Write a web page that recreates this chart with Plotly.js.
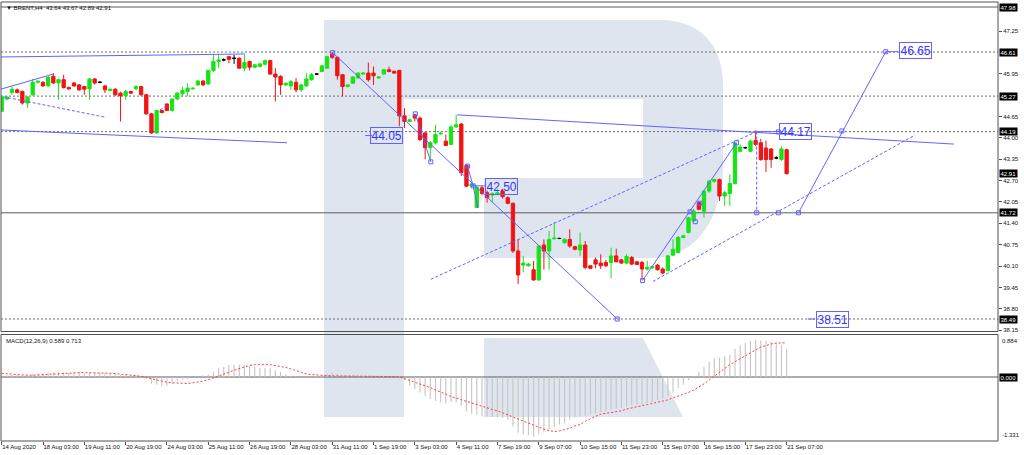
<!DOCTYPE html>
<html><head><meta charset="utf-8">
<script src="https://cdn.plot.ly/plotly-3.0.1.min.js"></script>
<style>html,body{margin:0;padding:0;background:#fff;}#chart{width:1024px;height:455px;}</style>
</head><body><div id="chart"></div>
<script>
// ---- BRENT H4 candles (bar index 0..152) ----
const openP = [44.81,45.18,45.38,45.46,45.41,45.06,45.31,45.69,45.69,45.58,
45.87,45.67,45.77,45.53,45.67,45.61,45.56,45.49,45.79,45.69,
45.58,45.44,45.48,45.36,45.28,45.41,45.49,45.56,45.31,44.73,
44.15,44.83,45.03,44.83,45.18,45.34,45.41,45.49,45.61,45.73,
45.64,46.05,46.32,46.37,46.47,46.42,46.42,46.12,46.32,46.15,
46.17,46.24,46.35,45.94,45.87,45.61,45.58,45.69,45.46,45.58,
45.77,45.94,46.02,46.12,46.55,46.45,45.92,45.56,45.66,45.82,
45.94,45.97,45.97,45.82,45.94,46.07,46.02,46.05,44.67,44.50,
44.70,44.60,44.15,43.70,43.85,44.12,43.90,43.80,44.33,44.42,
43.16,42.53,41.88,42.48,42.33,42.26,42.28,42.38,42.18,42.01,
40.56,40.13,40.11,39.99,39.68,40.74,40.56,40.93,40.94,40.81,
40.91,40.69,40.59,40.74,40.11,40.29,40.19,40.21,40.21,40.41,
40.29,40.19,40.36,40.23,40.21,40.01,40.05,40.13,40.01,39.96,
40.43,40.51,40.97,41.12,41.47,42.03,41.77,42.38,42.68,42.73,
42.23,42.31,42.61,43.59,43.70,43.59,43.92,43.85,43.69,43.66,
43.39,43.34,43.64];
const highP = [45.28,45.27,45.56,45.50,45.44,45.27,45.79,45.75,45.73,45.88,
45.97,45.80,45.92,45.56,45.70,45.64,45.58,45.82,45.82,45.73,
45.61,45.50,45.51,45.40,45.46,45.43,45.60,45.58,45.33,44.76,
44.86,44.85,45.05,45.20,45.40,45.56,45.66,45.53,45.76,45.75,
46.07,46.52,46.52,46.42,46.50,46.52,46.45,46.52,46.35,46.25,
46.28,46.38,46.37,46.12,45.90,45.68,45.76,45.82,45.64,45.97,
45.97,45.97,46.22,46.50,46.61,46.47,45.94,45.64,45.88,46.00,
45.99,46.29,46.17,45.87,46.10,46.17,46.05,46.07,44.90,44.58,
44.73,44.65,44.18,43.90,44.40,44.17,44.10,44.40,44.70,44.45,
43.20,42.62,42.56,42.55,42.40,42.35,42.45,42.45,42.22,42.03,
40.91,40.41,40.20,40.26,40.73,40.91,41.17,41.44,40.96,40.95,
41.22,40.72,41.12,40.86,40.13,40.36,40.46,40.29,40.66,40.63,
40.32,40.46,40.41,40.26,40.26,40.26,40.10,40.16,40.06,40.44,
40.92,41.02,41.05,41.60,41.84,42.05,42.40,42.73,42.76,42.76,
42.38,42.89,43.87,43.80,43.73,43.95,44.23,43.97,43.92,43.69,
43.44,43.74,43.67];
const lowP = [44.78,45.15,45.31,45.35,45.01,44.91,45.28,45.66,45.55,45.55,
45.64,45.16,45.50,45.46,45.55,45.43,45.31,45.16,45.62,45.66,
45.36,45.42,45.28,44.50,45.16,45.33,45.46,45.28,44.70,44.12,
44.12,44.75,44.82,44.80,45.15,45.26,45.26,45.47,45.58,45.58,
45.61,46.00,46.12,46.33,46.27,46.25,46.10,46.02,46.05,46.12,
46.14,46.20,45.92,45.11,45.31,45.58,45.46,45.38,45.40,45.55,
45.74,45.92,46.00,46.10,46.40,45.77,45.26,45.54,45.64,45.80,
45.92,45.71,45.61,45.80,45.92,45.99,45.95,44.35,44.30,44.47,
44.50,43.90,43.35,43.32,43.80,44.10,43.75,43.78,44.30,42.84,
42.50,42.50,41.86,42.25,42.03,42.03,42.25,42.15,41.98,40.50,
39.55,39.91,40.08,39.65,39.65,39.99,40.00,40.90,40.92,40.78,
40.66,40.58,40.41,40.00,40.01,40.03,40.01,40.06,39.73,40.21,
40.17,40.16,40.13,40.13,39.68,39.96,40.02,39.96,39.85,39.94,
40.41,40.48,40.95,41.10,41.47,41.80,41.57,42.33,42.63,42.08,
41.93,41.93,42.58,43.57,43.67,43.57,43.75,43.30,42.96,43.09,
43.35,43.30,42.89];
const closeP = [45.24,45.24,45.48,45.38,45.06,45.24,45.69,45.72,45.58,45.84,
45.67,45.77,45.53,45.49,45.58,45.46,45.48,45.79,45.67,45.69,
45.46,45.48,45.31,45.28,45.41,45.36,45.56,45.31,44.73,44.15,
44.83,44.77,44.83,45.18,45.36,45.44,45.51,45.51,45.73,45.61,
46.05,46.32,46.37,46.37,46.39,46.42,46.12,46.29,46.15,46.22,
46.25,46.35,45.94,45.85,45.61,45.66,45.71,45.46,45.61,45.79,
45.92,45.94,46.19,46.47,46.45,45.89,45.56,45.61,45.85,45.97,
45.97,45.77,45.89,45.85,46.07,46.02,45.97,44.67,44.50,44.55,
44.60,43.95,43.70,43.85,44.10,44.14,43.77,44.33,44.40,42.94,
42.53,42.60,42.49,42.31,42.18,42.30,42.33,42.21,42.01,40.56,
39.83,40.19,40.16,39.68,40.71,40.56,40.91,40.95,40.94,40.91,
40.71,40.61,40.74,40.06,40.03,40.16,40.11,40.11,40.41,40.23,
40.19,40.39,40.16,40.15,40.01,40.06,40.08,39.99,39.89,40.41,
40.61,40.97,41.02,41.57,41.77,41.83,42.38,42.68,42.73,42.23,
42.33,42.61,43.84,43.72,43.70,43.90,43.80,43.34,43.34,43.34,
43.39,43.66,42.91];

// ---- MACD(12,26,9) ----
const macdMain = [0.03,0.03,0.04,0.04,0.03,0.04,0.06,0.07,0.07,0.09,
0.10,0.10,0.10,0.09,0.09,0.09,0.08,0.09,0.09,0.09,
0.08,0.07,0.06,0.04,0.04,0.03,0.03,0.01,-0.04,-0.14,
-0.16,-0.19,-0.18,-0.14,-0.09,-0.05,-0.04,0.00,0.01,0.03,
0.05,0.11,0.18,0.21,0.25,0.26,0.26,0.25,0.23,0.21,
0.19,0.18,0.18,0.14,0.11,0.05,0.02,0.01,0.01,0.01,
0.01,0.02,0.04,0.07,0.09,0.07,0.03,0.01,0.01,0.02,
0.02,0.01,0.00,0.01,0.02,0.01,0.00,-0.04,-0.07,-0.18,
-0.25,-0.32,-0.39,-0.46,-0.50,-0.52,-0.55,-0.52,-0.53,-0.60,
-0.71,-0.76,-0.78,-0.82,-0.82,-0.83,-0.83,-0.85,-0.89,-1.03,
-1.16,-1.19,-1.21,-1.24,-1.19,-1.14,-1.09,-1.04,-0.99,-0.96,
-0.89,-0.85,-0.82,-0.80,-0.78,-0.76,-0.73,-0.71,-0.67,-0.66,
-0.64,-0.62,-0.60,-0.59,-0.57,-0.55,-0.52,-0.48,-0.45,-0.39,
-0.32,-0.23,-0.16,-0.07,0.02,0.11,0.21,0.31,0.39,0.40,
0.43,0.46,0.59,0.66,0.71,0.75,0.78,0.76,0.75,0.73,
0.71,0.67,0.589];
const macdSignal = [0.078,0.064,0.057,0.050,0.043,0.036,0.036,0.043,0.050,0.057,
0.064,0.071,0.085,0.085,0.092,0.092,0.092,0.092,0.092,0.092,
0.085,0.078,0.071,0.064,0.050,0.036,0.028,0.014,0.000,-0.036,
-0.064,-0.085,-0.107,-0.121,-0.128,-0.142,-0.135,-0.121,-0.107,-0.085,
-0.057,-0.021,0.014,0.057,0.099,0.142,0.178,0.213,0.241,0.256,
0.263,0.263,0.256,0.241,0.227,0.199,0.170,0.135,0.099,0.064,
0.050,0.036,0.036,0.028,0.021,0.021,0.021,0.021,0.021,0.021,
0.021,0.021,0.021,0.014,0.014,0.007,0.007,0.000,-0.036,-0.071,
-0.107,-0.142,-0.178,-0.220,-0.270,-0.305,-0.355,-0.405,-0.440,-0.469,
-0.504,-0.533,-0.568,-0.604,-0.639,-0.675,-0.703,-0.746,-0.788,-0.831,
-0.880,-0.923,-0.966,-1.008,-1.051,-1.086,-1.115,-1.136,-1.122,-1.101,
-1.065,-1.015,-0.987,-0.923,-0.866,-0.817,-0.774,-0.760,-0.746,-0.724,
-0.703,-0.667,-0.639,-0.618,-0.596,-0.575,-0.554,-0.533,-0.511,-0.476,
-0.433,-0.398,-0.369,-0.320,-0.270,-0.213,-0.142,-0.064,0.021,0.107,
0.178,0.256,0.320,0.383,0.440,0.497,0.568,0.625,0.653,0.689,
0.705,0.712,0.713];

// ---- axis labels ----
const timeTickIdx = [0,8,16,24,32,40,48,56,64,72,80,88,96,104,112,120,128,136,144,152];
const timeTickText = ["14 Aug 2020","18 Aug 03:00","19 Aug 11:00","20 Aug 19:00","24 Aug 03:00","25 Aug 11:00","26 Aug 19:00","28 Aug 03:00","31 Aug 11:00","1 Sep 19:00","3 Sep 03:00","4 Sep 11:00","7 Sep 19:00","9 Sep 07:00","10 Sep 15:00","11 Sep 23:00","15 Sep 07:00","16 Sep 15:00","17 Sep 23:00","21 Sep 07:00"];
const priceTicks = [38.15,38.80,39.45,40.10,40.75,41.40,42.05,42.70,43.35,44.00,44.65,45.95,47.25];
const boxedPrices = [47.98,46.61,45.27,44.19,42.91,41.72,38.49];
const dottedLevels = [46.61,45.27,44.19,38.49];
const solidLevels = [47.98,41.72];
const macdTop = 0.884, macdBottom = -1.331;
const titleText = "\u25BC BRENT,H4  43.64 43.67 42.89 42.91";
const macdTitle = "MACD(12,26,9) 0.589 0.713";

// ---- analysis objects: [bar0, price0, bar1, price1] ----
const solidObjects = [
 [-0.2,46.46,47.1,46.55],[-0.2,44.24,55.25,43.85],[-0.2,45.48,10.0,45.94],
 [64.1,46.59,119.2,38.49],[80.1,44.73,83.1,43.27],
 [90.2,43.14,91.3,42.54],[91.3,42.54,92.2,41.87],[91.3,42.54,93.6,42.54],
 [88.2,44.70,184.4,43.81],[124.1,39.66,142.3,43.85],[154.3,41.72,171.2,46.62],
 [70.4,44.07,71.7,44.07],[146.2,44.19,150.5,44.19],[171.2,46.62,173.6,46.62],[156.1,38.49,157.5,38.49]
];
const dottedObjects = [
 [0.3,45.25,20.0,44.63],[30.65,44.85,32.2,45.0],[83.1,39.70,146.2,44.19],
 [126.1,39.63,176.9,44.09],[146.2,44.19,146.2,41.72]
];
const pointBars = [64.1,119.2,80.1,83.1,90.2,91.3,124.1,142.3,146.2,150.4,154.3,171.2,162.7,133.3,134.3,135.2,150.4];
const pointPrices = [46.59,38.49,44.73,43.27,43.14,42.54,39.66,43.85,41.72,41.72,41.72,46.62,44.21,41.75,41.45,42.01,44.18];
const targetText = ["44.05","42.50","44.17","46.65","38.51"];
const targetBars = [74.6,96.7,153.8,176.9,160.9];
const targetPrices = [44.07,42.52,44.18,46.66,38.48];

// ---- build ----
const W = 1024, H = 455, ML = 1, MR = 26, MT = 2, MB = 14;
const plotW = W - ML - MR, plotH = H - MT - MB;
const barIdx = openP.map((_, i) => i);
const isDoji = barIdx.map(i => closeP[i] === openP[i]);
const sel = (arr, want) => arr.filter((_, i) => isDoji[i] === want);

const GREEN = '#17e317', RED = '#f01414', BLUE = '#6262ff', TXTBLUE = '#3434ff';
const FONT = 'Liberation Sans, Arial, sans-serif';

const traces = [
 {type:'candlestick', x:sel(barIdx,false), open:sel(openP,false), high:sel(highP,false), low:sel(lowP,false), close:sel(closeP,false),
  xaxis:'x', yaxis:'y', hoverinfo:'skip', showlegend:false, whiskerwidth:0,
  increasing:{line:{color:GREEN,width:1}, fillcolor:GREEN},
  decreasing:{line:{color:RED,width:1}, fillcolor:RED}},
 {type:'candlestick', x:sel(barIdx,true), open:sel(openP,true), high:sel(highP,true), low:sel(lowP,true), close:sel(closeP,true),
  xaxis:'x', yaxis:'y', hoverinfo:'skip', showlegend:false, whiskerwidth:0,
  increasing:{line:{color:'#000',width:1}, fillcolor:'#000'},
  decreasing:{line:{color:'#000',width:1}, fillcolor:'#000'}},
 {type:'bar', x:barIdx, y:macdMain, xaxis:'x', yaxis:'y2', width:0.22,
  marker:{color:'#c6c6c6', line:{width:0}}, hoverinfo:'skip', showlegend:false},
 {type:'scatter', mode:'lines', x:barIdx, y:macdSignal, xaxis:'x', yaxis:'y2',
  line:{color:'#ff3c3c', width:1, dash:'2px,2px'}, hoverinfo:'skip', showlegend:false},
 {type:'scatter', mode:'markers', x:pointBars, y:pointPrices, xaxis:'x', yaxis:'y',
  marker:{symbol:'square-open', size:4, color:BLUE, line:{width:1,color:BLUE}}, hoverinfo:'skip', showlegend:false, cliponaxis:true}
];

// pixel -> paper helpers for decorative watermark
const px = x => (x - ML) / plotW;
const py = y => (H - MB - y) / plotH;
const pt = (x, y) => px(x).toFixed(5) + ',' + py(y).toFixed(5);
const logoTop = 'M' + pt(324,20) + ' L' + pt(660,20) +
  ' C' + pt(700,20) + ' ' + pt(723,45) + ' ' + pt(723,85) +
  ' L' + pt(723,165) +
  ' C' + pt(723,215) + ' ' + pt(698,258) + ' ' + pt(652,258) +
  ' L' + pt(484,258) + ' L' + pt(484,178) + ' L' + pt(643,178) + ' L' + pt(643,99) +
  ' L' + pt(404,99) + ' L' + pt(404,417) + ' L' + pt(324,417) + ' Z';
const logoLeg = 'M' + pt(484,338) + ' L' + pt(643,338) + ' L' + pt(683,417) + ' L' + pt(484,417) + ' Z';

const priceDomTop = 1, priceDomBot = py(331.5), macdDomTop = py(334.5);

const shapes = [
 {type:'path', path:logoTop, xref:'paper', yref:'paper', fillcolor:'#dee5ee', line:{width:0}, layer:'below'},
 {type:'path', path:logoLeg, xref:'paper', yref:'paper', fillcolor:'#dee5ee', line:{width:0}, layer:'below'}
];
dottedLevels.forEach(v => shapes.push({type:'line', xref:'paper', yref:'y', x0:0, x1:1, y0:v, y1:v,
  line:{color:'#6e6e6e', width:1, dash:'2px,2px'}, layer:'below'}));
solidLevels.forEach(v => shapes.push({type:'line', xref:'paper', yref:'y', x0:0, x1:1, y0:v, y1:v,
  line:{color:'#5a5a5a', width:1}, layer:'below'}));
shapes.push({type:'line', xref:'paper', yref:'y2', x0:0, x1:1, y0:0, y1:0, line:{color:'#5a5a5a', width:1}, layer:'below'});
solidObjects.forEach(o => shapes.push({type:'line', xref:'x', yref:'y', x0:o[0], y0:o[1], x1:o[2], y1:o[3],
  line:{color:BLUE, width:1}, layer:'above'}));
dottedObjects.forEach(o => shapes.push({type:'line', xref:'x', yref:'y', x0:o[0], y0:o[1], x1:o[2], y1:o[3],
  line:{color:BLUE, width:1, dash:'3px,2px'}, layer:'above'}));
// panel frames
shapes.push({type:'rect', xref:'paper', yref:'paper', x0:0, x1:1, y0:priceDomBot, y1:priceDomTop, line:{color:'#505050', width:1}, fillcolor:'rgba(0,0,0,0)', layer:'above'});
shapes.push({type:'rect', xref:'paper', yref:'paper', x0:0, x1:1, y0:0, y1:macdDomTop, line:{color:'#505050', width:1}, fillcolor:'rgba(0,0,0,0)', layer:'above'});

const annotations = [];
annotations.push({xref:'paper', yref:'paper', x:0, y:1, xanchor:'left', yanchor:'top', xshift:3, yshift:-1,
  text:titleText, showarrow:false, font:{family:FONT, size:6, color:'#111'}});
annotations.push({xref:'paper', yref:'paper', x:0, y:macdDomTop, xanchor:'left', yanchor:'top', xshift:3, yshift:-1,
  text:macdTitle, showarrow:false, font:{family:FONT, size:6, color:'#111'}});
boxedPrices.forEach(v => annotations.push({xref:'paper', yref:'y', x:1, y:v, xanchor:'left', yanchor:'middle', xshift:1,
  text:v.toFixed(2), showarrow:false, bgcolor:'#000', borderpad:0.5, font:{family:FONT, size:6, color:'#fff'}}));
annotations.push({xref:'paper', yref:'y2', x:1, y:0, xanchor:'left', yanchor:'middle', xshift:1,
  text:'0.000', showarrow:false, bgcolor:'#000', borderpad:0.5, font:{family:FONT, size:6, color:'#fff'}});
annotations.push({xref:'paper', yref:'y2', x:1, y:macdTop, xanchor:'left', yanchor:'top', xshift:2, yshift:-1,
  text:macdTop.toFixed(3), showarrow:false, font:{family:FONT, size:6, color:'#111'}});
annotations.push({xref:'paper', yref:'y2', x:1, y:macdBottom, xanchor:'left', yanchor:'bottom', xshift:2, yshift:1,
  text:macdBottom.toFixed(3), showarrow:false, font:{family:FONT, size:6, color:'#111'}});
targetText.forEach((t, k) => annotations.push({xref:'x', yref:'y', x:targetBars[k], y:targetPrices[k],
  xanchor:'center', yanchor:'middle', text:t, showarrow:false, bordercolor:BLUE, borderwidth:1, borderpad:0.5,
  bgcolor:'rgba(255,255,255,0)', font:{family:FONT, size:12, color:TXTBLUE}}));

const xPix0 = 1.7, barPx = 5.164;
const layout = {
 width:W, height:H, margin:{l:ML, r:MR, t:MT, b:MB, pad:0},
 paper_bgcolor:'#ffffff', plot_bgcolor:'rgba(0,0,0,0)',
 showlegend:false, dragmode:false, boxgap:0.2, boxgroupgap:0.2,
 xaxis:{range:[(ML - xPix0)/barPx, (W - MR - xPix0)/barPx], anchor:'y2', rangeslider:{visible:false},
  tickmode:'array', tickvals:timeTickIdx, ticktext:timeTickText, ticklabelposition:'outside right', tickangle:0,
  ticks:'outside', ticklen:3, tickcolor:'#505050', tickfont:{family:FONT, size:6, color:'#111'},
  showgrid:false, zeroline:false, showline:false, fixedrange:true, automargin:false},
 yaxis:{domain:[priceDomBot, priceDomTop], range:[38.11, 48.132], anchor:'x', side:'right',
  tickmode:'array', tickvals:priceTicks, tickformat:'.2f', ticks:'outside', ticklen:3, tickcolor:'#505050',
  tickfont:{family:FONT, size:6, color:'#111'}, showgrid:false, zeroline:false, showline:false, fixedrange:true, automargin:false},
 yaxis2:{domain:[0, macdDomTop], range:[macdBottom, macdTop], anchor:'x', side:'right',
  showticklabels:false, ticks:'', showgrid:false, zeroline:false, showline:false, fixedrange:true},
 shapes:shapes, annotations:annotations
};
Plotly.newPlot('chart', traces, layout, {displayModeBar:false, staticPlot:true});
</script>
</body></html>
